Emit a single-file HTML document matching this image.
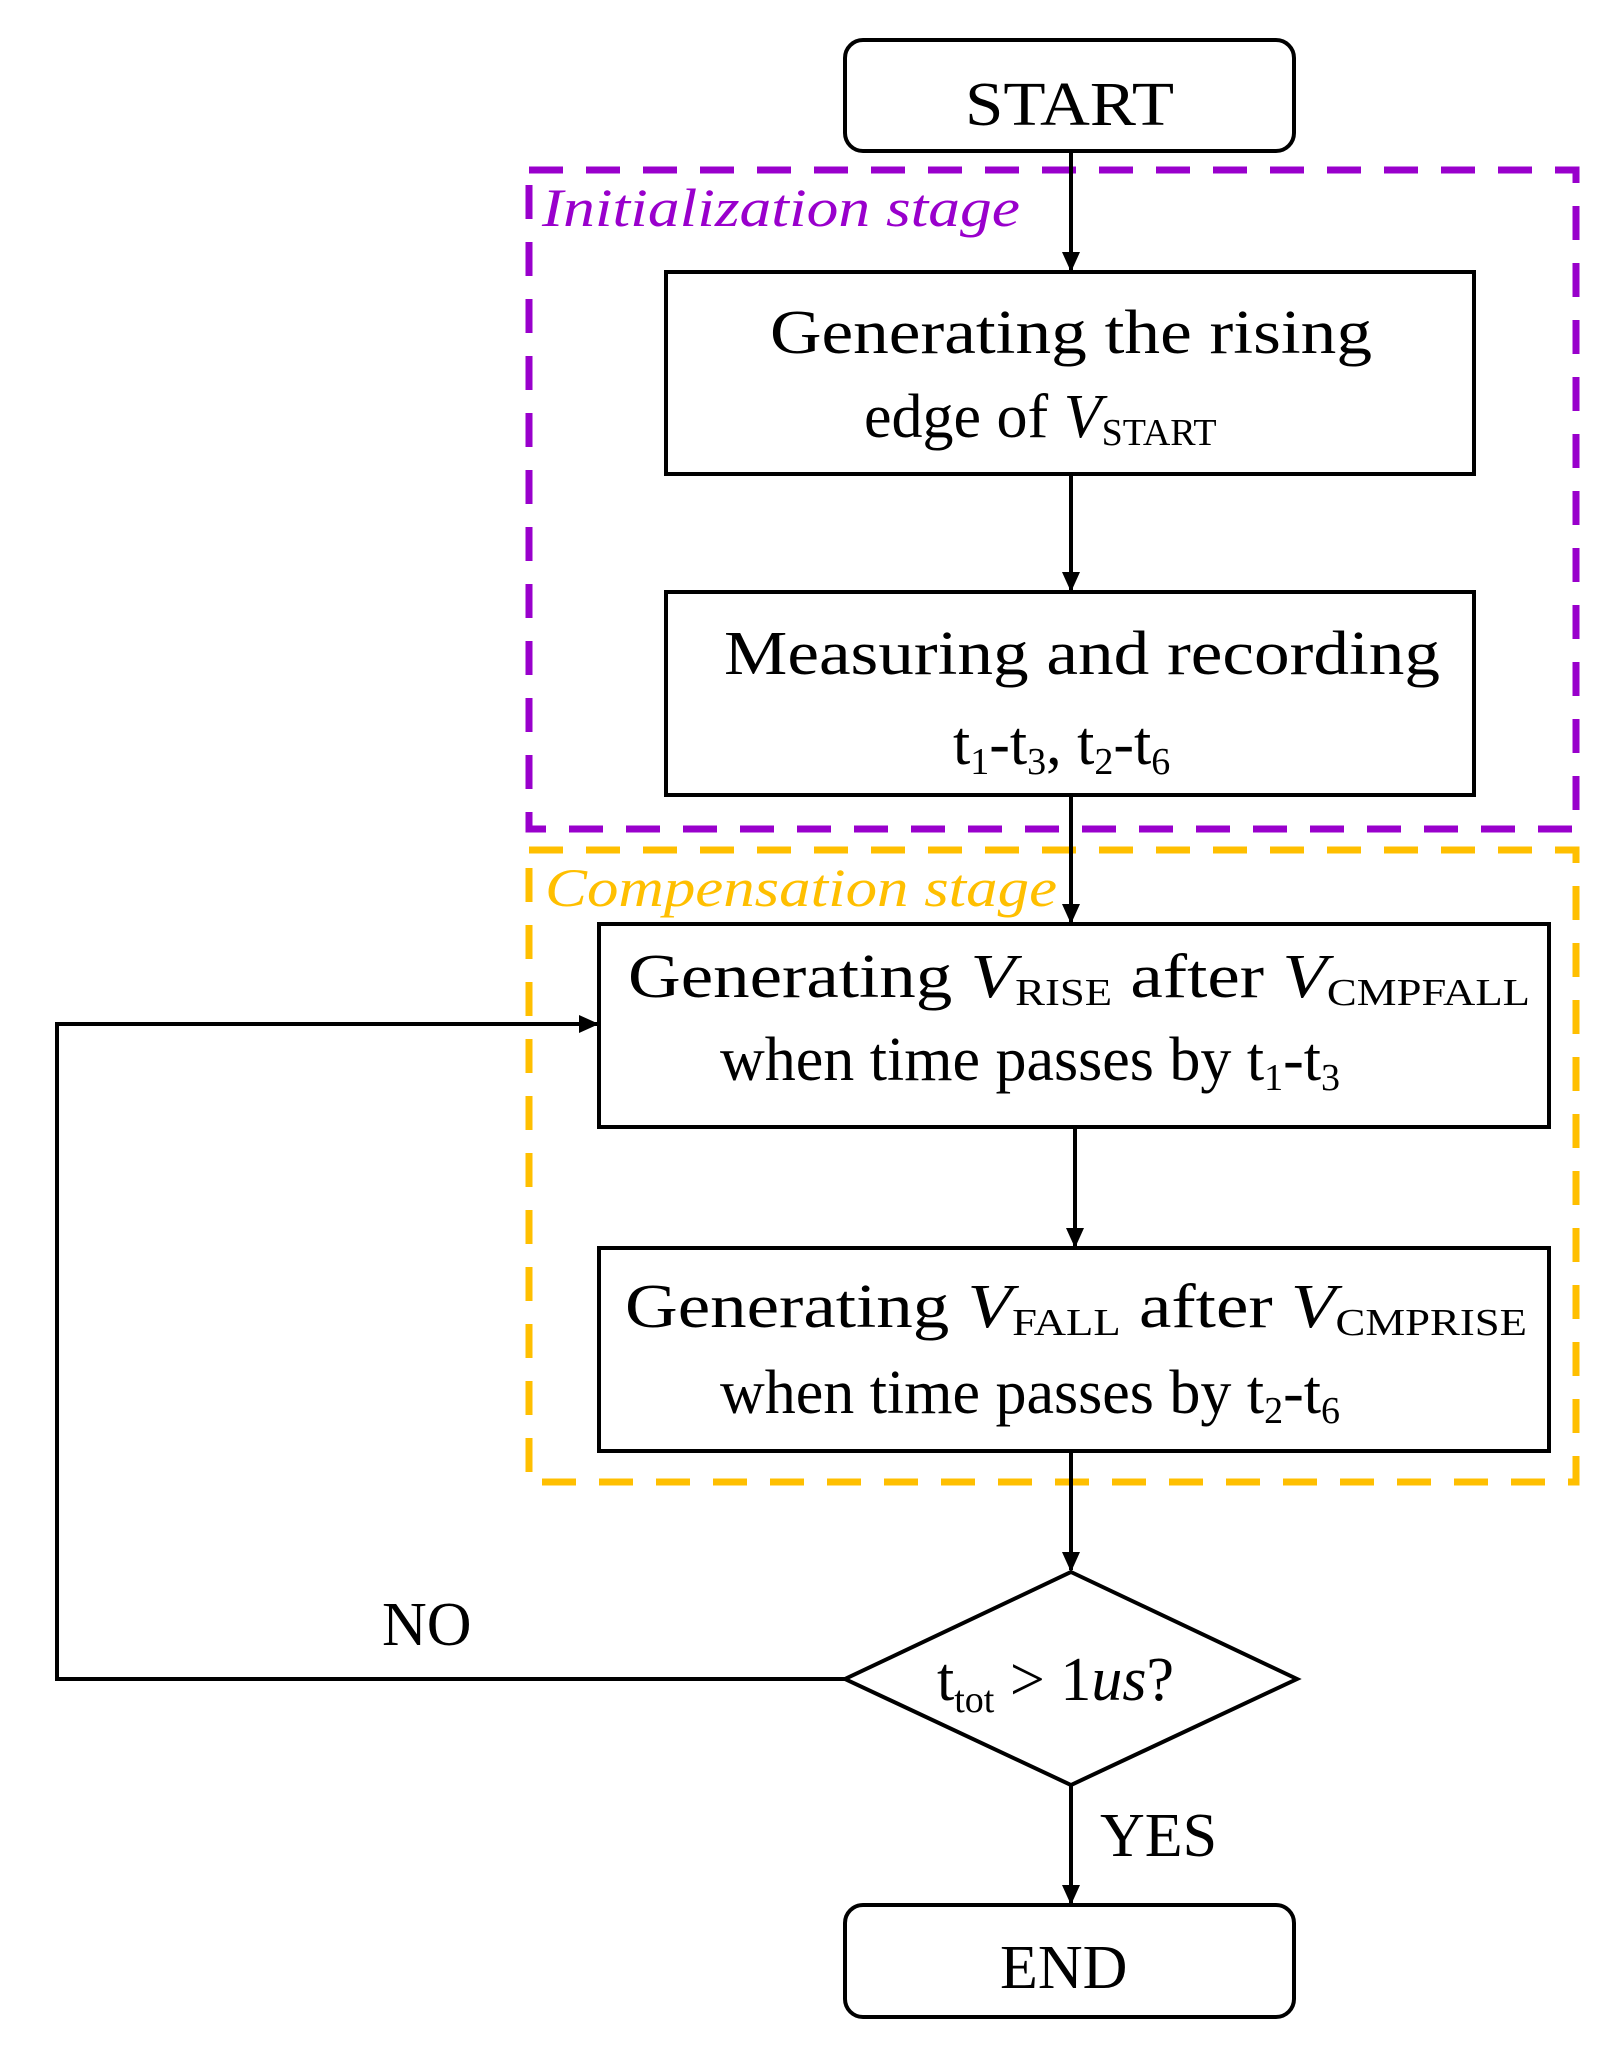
<!DOCTYPE html>
<html><head><meta charset="utf-8"><style>html,body{margin:0;padding:0;background:#fff}svg{display:block}</style></head>
<body>
<svg width="1606" height="2051" viewBox="0 0 1606 2051" xmlns="http://www.w3.org/2000/svg" font-family="'Liberation Serif', serif">
<defs>
<marker id="a" markerWidth="20" markerHeight="20" refX="18" refY="9" orient="auto" markerUnits="userSpaceOnUse" viewBox="0 0 20 18">
<path d="M0,0 L20,9 L0,18 z" fill="#000"/></marker>
</defs>
<g fill="none" stroke-width="7" stroke-dasharray="34 23">
<rect x="529" y="170" width="1047" height="659" stroke="#9900cc"/>
<rect x="529" y="850" width="1047" height="632" stroke="#ffbf00"/>
</g>
<g fill="none" stroke="#000" stroke-width="4">
<rect x="845" y="40" width="449" height="111" rx="18"/>
<rect x="666" y="272" width="808" height="202"/>
<rect x="666" y="592" width="808" height="203"/>
<rect x="599" y="924" width="950" height="203"/>
<rect x="599" y="1248" width="950" height="203"/>
<path d="M1071,1572 L1297,1679 L1071,1785 L845,1679 z"/>
<rect x="845" y="1905" width="449" height="112" rx="18"/>
</g>
<g stroke="#000" stroke-width="4" fill="none">
<line x1="1071" y1="151" x2="1071" y2="270" marker-end="url(#a)"/>
<line x1="1071" y1="474" x2="1071" y2="590" marker-end="url(#a)"/>
<line x1="1071" y1="795" x2="1071" y2="922" marker-end="url(#a)"/>
<line x1="1075" y1="1127" x2="1075" y2="1246" marker-end="url(#a)"/>
<line x1="1071" y1="1451" x2="1071" y2="1570" marker-end="url(#a)"/>
<line x1="1071" y1="1785" x2="1071" y2="1903" marker-end="url(#a)"/>
<polyline points="845,1679 57,1679 57,1024 597,1024" marker-end="url(#a)"/>
</g>
<g font-size="62" fill="#000">
<text x="965" y="125" textLength="209" lengthAdjust="spacingAndGlyphs">START</text>
<text x="770" y="353" textLength="602" lengthAdjust="spacingAndGlyphs">Generating the rising</text>
<text x="864" y="437">edge of <tspan font-style="italic">V</tspan><tspan font-size="38" dy="8">START</tspan></text>
<text x="724" y="674" textLength="716" lengthAdjust="spacingAndGlyphs">Measuring and recording</text>
<text x="953" y="764">t<tspan font-size="38" dy="10">1</tspan><tspan dy="-10">-t</tspan><tspan font-size="38" dy="10">3</tspan><tspan dy="-10">, t</tspan><tspan font-size="38" dy="10">2</tspan><tspan dy="-10">-t</tspan><tspan font-size="38" dy="10">6</tspan></text>
<text x="628" y="997" textLength="902" lengthAdjust="spacingAndGlyphs">Generating <tspan font-style="italic">V</tspan><tspan font-size="38" dy="8">RISE</tspan><tspan dy="-8"> after </tspan><tspan font-style="italic">V</tspan><tspan font-size="38" dy="8">CMPFALL</tspan></text>
<text x="720" y="1080">when time passes by t<tspan font-size="38" dy="10">1</tspan><tspan dy="-10">-t</tspan><tspan font-size="38" dy="10">3</tspan></text>
<text x="625" y="1327" textLength="902" lengthAdjust="spacingAndGlyphs">Generating <tspan font-style="italic">V</tspan><tspan font-size="38" dy="8">FALL</tspan><tspan dy="-8"> after </tspan><tspan font-style="italic">V</tspan><tspan font-size="38" dy="8">CMPRISE</tspan></text>
<text x="720" y="1413">when time passes by t<tspan font-size="38" dy="10">2</tspan><tspan dy="-10">-t</tspan><tspan font-size="38" dy="10">6</tspan></text>
<text x="937" y="1700">t<tspan font-size="38" dy="12">tot</tspan><tspan dy="-12"> &gt; 1</tspan><tspan font-style="italic">us</tspan>?</text>
<text x="1100" y="1856">YES</text>
<text x="382" y="1645">NO</text>
<text x="1000" y="1988">END</text>
</g>
<text x="542" y="226" font-size="54" font-style="italic" fill="#9900cc" textLength="478" lengthAdjust="spacingAndGlyphs">Initialization stage</text>
<text x="545" y="906" font-size="54" font-style="italic" fill="#ffbf00" textLength="512" lengthAdjust="spacingAndGlyphs">Compensation stage</text>
</svg>
</body></html>
